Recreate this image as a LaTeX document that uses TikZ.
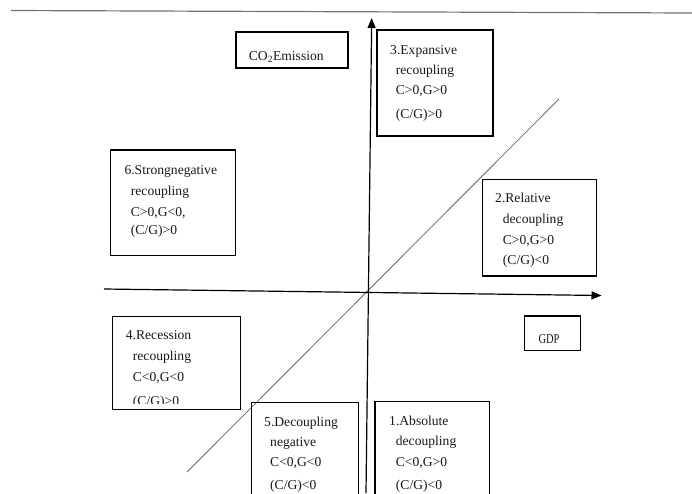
\documentclass[tikz,border=0pt]{standalone}
\usepackage{fontspec}
\setmainfont{Liberation Serif}
\usetikzlibrary{arrows.meta}
\tikzset{
  boxline/.style={draw=black, line width=1.1pt},
  frame/.style={boxline, fill=none},
  txt/.style={anchor=base west, inner sep=0pt, font=\fontsize{13.6}{16}\selectfont, text=black!90},
  axis/.style={line width=1.2pt, draw=black, -{Triangle[length=10pt,width=8pt]}},
  diag/.style={line width=0.8pt, draw=black!60},
  topline/.style={line width=1.2pt, draw=black!55}
}
\begin{document}
\begin{tikzpicture}[x=1pt,y=-1pt]
\useasboundingbox (0,0) rectangle (692,493);
% top rule
\coordinate (tl) at (11,10.5);
\coordinate (tr) at (692,13);
\draw[topline] (tl) -- (tr);
% axes and diagonal
\coordinate (vb) at (366,493);
\coordinate (vt) at (371.7,18);
\coordinate (hl) at (104,289);
\coordinate (hr) at (601.5,295.5);
\coordinate (dl) at (187,472);
\coordinate (dr) at (559,99);
\draw[diag] (dl) -- (dr);
\draw[axis] (vb) -- (vt);
\draw[axis] (hl) -- (hr);
% boxes
\path[frame] (236,32) rectangle (348,68);
\node[txt] (co2) at (248.7,60) {CO\textsubscript{2}Emission};
\path[frame] (377,30) rectangle (493,136);
\node[txt] (b3a) at (390,54.3) {3.Expansive};
\node[txt] (b3b) at (395.7,74) {recoupling};
\node[txt] (b3c) at (395.7,94.3) {C>0,G>0};
\node[txt] (b3d) at (395.7,118.3) {(C/G)>0};
\path[frame] (482.3,179.3) rectangle (596.3,276);
\node[txt] (b2a) at (495,202.7) {2.Relative};
\node[txt] (b2b) at (502.7,223.3) {decoupling};
\node[txt] (b2c) at (502.7,244) {C>0,G>0};
\node[txt] (b2d) at (502.7,264.3) {(C/G)<0};
\path[frame] (110.3,150) rectangle (235.3,255.7);
\node[txt] (b6a) at (124.3,174.3) {6.Strongnegative};
\node[txt] (b6b) at (130.7,195) {recoupling};
\node[txt] (b6c) at (130.7,216) {C>0,G<0,};
\node[txt] (b6d) at (130.7,234.7) {(C/G)>0};
\path[frame] (112.3,316.7) rectangle (240.3,409.3);
\node[txt] (b4a) at (125.7,339.3) {4.Recession};
\node[txt] (b4b) at (132.7,360) {recoupling};
\node[txt] (b4c) at (132.7,381.3) {C<0,G<0};
\begin{scope}
\clip (112.3,316.7) rectangle (240.3,403);
\node[txt] (b4d) at (132.7,405.5) {(C/G)>0};
\end{scope}
\path[frame] (251.3,402.7) rectangle (358.3,500);
\node[txt] (b5a) at (264,426) {5.Decoupling};
\node[txt] (b5b) at (270,446.7) {negative};
\node[txt] (b5c) at (270,466.7) {C<0,G<0};
\node[txt] (b5d) at (270,489.3) {(C/G)<0};
\path[frame] (375,401.7) rectangle (489.3,500);
\node[txt] (b1a) at (389,425.3) {1.Absolute};
\node[txt] (b1b) at (395.7,445.7) {decoupling};
\node[txt] (b1c) at (395.7,466.7) {C<0,G>0};
\node[txt] (b1d) at (395.7,489.3) {(C/G)<0};
\path[frame] (524.3,316) rectangle (580.3,350.7);
\node[txt] (gdp) at (538.3,343.3) {\scalebox{0.77}[1]{GDP}};
\end{tikzpicture}
\end{document}
